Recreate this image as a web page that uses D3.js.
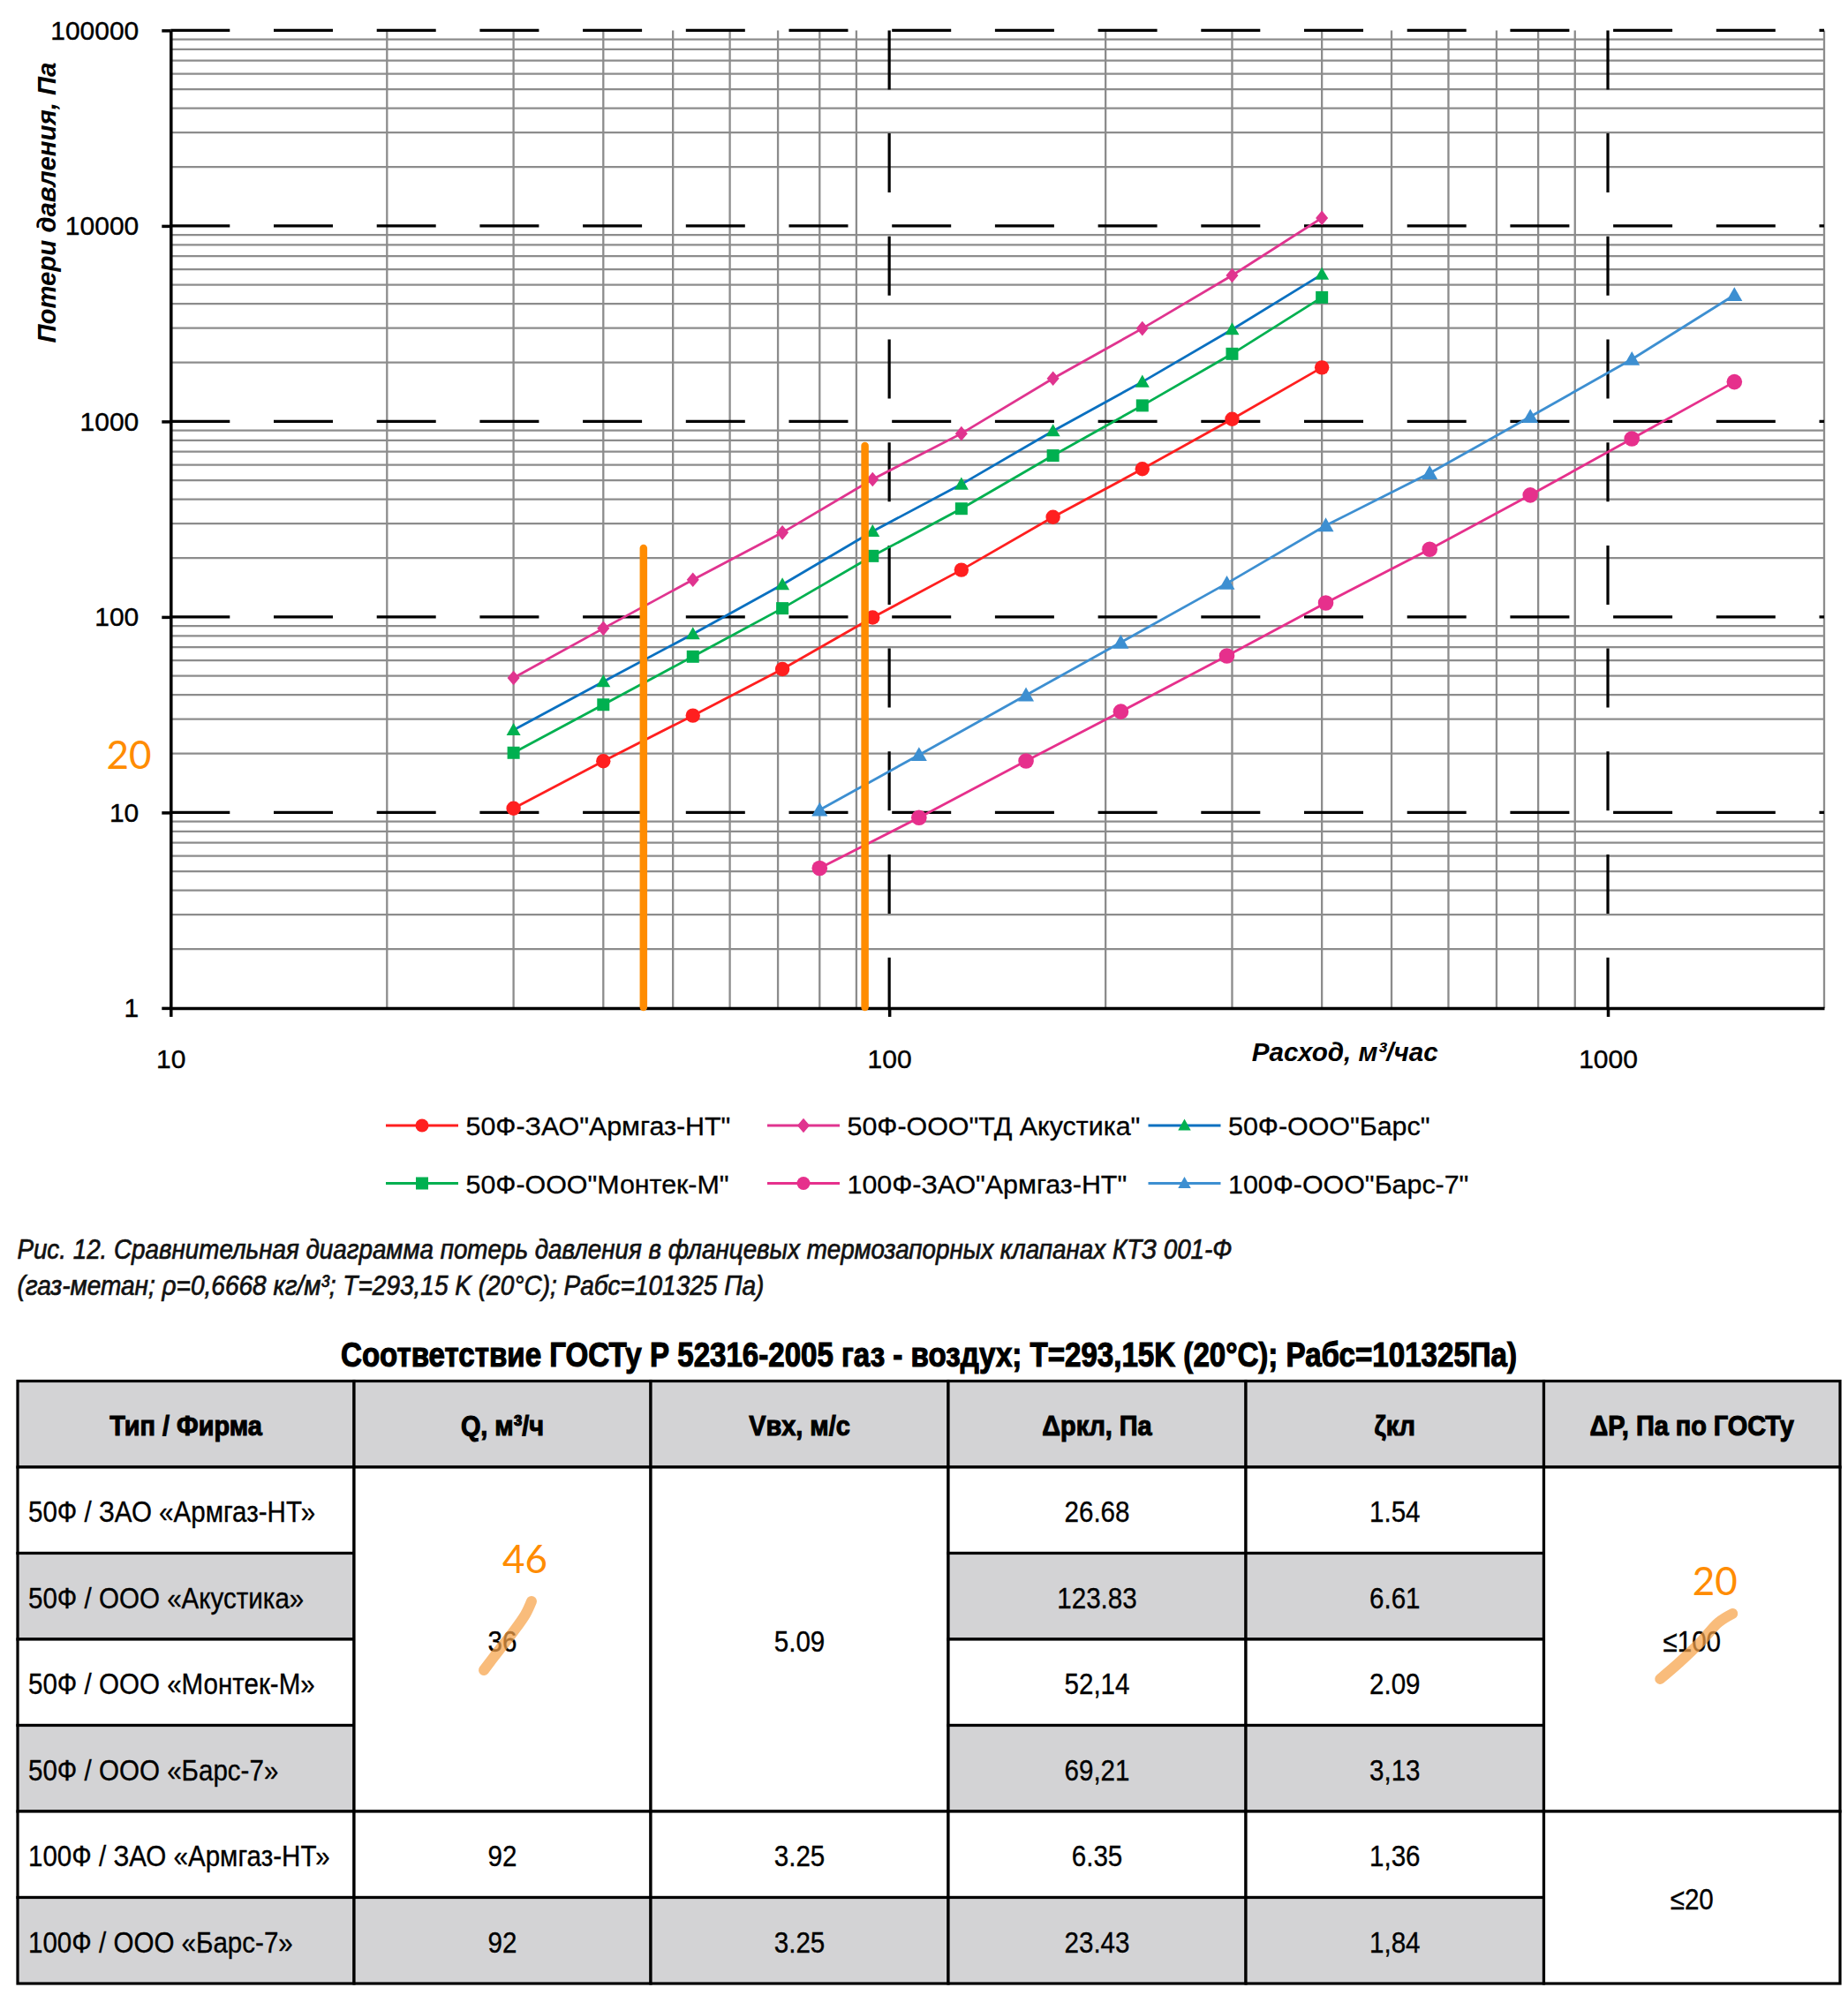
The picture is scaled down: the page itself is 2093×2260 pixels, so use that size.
<!DOCTYPE html>
<html><head><meta charset="utf-8">
<script src="https://cdn.jsdelivr.net/npm/d3@7"></script>
<style>
html,body{margin:0;padding:0;background:#fff;}
svg{display:block;}
</style></head>
<body>
<svg id="chart" width="2093" height="2260"></svg>
<script>
// ================= DATA =================
const flow50  = [30, 40, 53.3, 71, 94.8, 126, 169, 225, 300, 400];          // m3/h, DN50 valves
const flow100 = [80, 110, 155, 210, 295, 405, 565, 780, 1080, 1500];        // m3/h, DN100 valves
const armgaz50   = [10.5, 18.3, 31.3, 54.1, 99.4, 174, 324, 571, 1028, 1886];
const akustika50 = [48.8, 87.4, 155, 270, 506, 867, 1658, 2988, 5582, 10980];
const bars50     = [26.4, 46.7, 81.8, 146.5, 274, 477, 894, 1593, 2953, 5650];
const montek50   = [20.2, 35.6, 62.7, 110.7, 205, 358, 669, 1206, 2217, 4310];
const armgaz100  = [5.19, 9.41, 18.35, 32.8, 63.2, 118, 222, 420, 816, 1593];
const bars100    = [10.3, 19.7, 39.8, 74.1, 148.5, 293.6, 544, 1057, 2080, 4431];
const seriesNames = ['50Ф-ЗАО"Армгаз-НТ"', '50Ф-ООО"ТД Акустика"', '50Ф-ООО"Барс"',
                     '50Ф-ООО"Монтек-М"', '100Ф-ЗАО"Армгаз-НТ"', '100Ф-ООО"Барс-7"'];
const xTickValues = [10, 100, 1000];
const yTickValues = [1, 10, 100, 1000, 10000, 100000];
const xDomain = [10, 2000];
const yDomain = [1, 100000];
// hand-drawn orange annotations
const markFlows = [45.5, 92.5];
const markTops  = [225, 750];
const markPressure = 20;

const xTitle = 'Расход, м³/час';
const yTitle = 'Потери давления, Па';
const captionLines = ['Рис. 12. Сравнительная диаграмма потерь давления в фланцевых термозапорных клапанах КТЗ 001-Ф',
                      '(газ-метан; ρ=0,6668 кг/м³; T=293,15 K (20°C); Рабс=101325 Па)'];
const tableTitle = 'Соответствие ГОСТу Р 52316-2005 газ - воздух; T=293,15K (20°C); Рабс=101325Па)';
const tableHeaders = ['Тип / Фирма', 'Q, м³/ч', 'Vвх, м/с', 'Δркл, Па', 'ζкл', 'ΔP, Па по ГОСТу'];
const valveTypes = ['50Ф / ЗАО «Армгаз-НТ»', '50Ф / ООО «Акустика»', '50Ф / ООО «Монтек-М»',
                    '50Ф / ООО «Барс-7»', '100Ф / ЗАО «Армгаз-НТ»', '100Ф / ООО «Барс-7»'];
const qCells    = [{text: '36', from: 1, to: 4}, {text: '92', from: 5, to: 5}, {text: '92', from: 6, to: 6}];
const vCells    = [{text: '5.09', from: 1, to: 4}, {text: '3.25', from: 5, to: 5}, {text: '3.25', from: 6, to: 6}];
const dpValues  = ['26.68', '123.83', '52,14', '69,21', '6.35', '23.43'];
const zetaValues = ['1.54', '6.61', '2.09', '3,13', '1,36', '1,84'];
const gostCells = [{text: '≤100', from: 1, to: 4}, {text: '≤20', from: 5, to: 6}];
const tableNotes = ['46', '20'];

// ================= STYLE / LAYOUT =================
const W = 2093, H = 2260;
const plot = {left: 193.3, right: 2066, top: 34.4, bottom: 1141.9};
const styles = [
  {line: '#ff1f1f', marker: '#ff1f1f', shape: 'circle', size: 8.2},
  {line: '#e0348f', marker: '#e0348f', shape: 'diamond', size: 7.4},
  {line: '#0a70c0', marker: '#00b050', shape: 'triangle', size: 16},
  {line: '#00b050', marker: '#00b050', shape: 'square', size: 7},
  {line: '#e6308c', marker: '#e6308c', shape: 'circle', size: 8.8},
  {line: '#3d8fd1', marker: '#3d8fd1', shape: 'triangle', size: 18}
];
const ORANGE = '#ff8c00';
const GRID = '#8c8c8c';
const TABLE_GRAY = '#d3d3d5';

function fontAvailable(name) {
  const c = document.createElement('canvas').getContext('2d');
  const s = 'abcdefghijklmn АБВГДабвгдежз 0123456789';
  c.font = '40px monospace'; const w1 = c.measureText(s).width;
  c.font = '40px "' + name + '", monospace'; const w2 = c.measureText(s).width;
  return Math.abs(w1 - w2) > 0.5;
}
const NARROW_OK = fontAvailable('Liberation Sans Narrow');
const NARROW = NARROW_OK ? '"Liberation Sans Narrow", "Liberation Sans", sans-serif' : '"Liberation Sans", sans-serif';
const SANS = '"Liberation Sans", Arial, sans-serif';
const CAL = 'Lato, "Liberation Sans", sans-serif';
function stretch(sel, factor) {
  const f = NARROW_OK ? factor : factor * 0.82;
  sel.each(function () {
    const L = this.getComputedTextLength();
    d3.select(this).attr('textLength', L * f).attr('lengthAdjust', 'spacingAndGlyphs');
  });
}
function fitWidth(sel, w) {
  sel.attr('textLength', w).attr('lengthAdjust', 'spacingAndGlyphs');
}

function markerPath(shape, s) {
  if (shape === 'circle') return `M${s},0A${s},${s} 0 1,1 ${-s},0A${s},${s} 0 1,1 ${s},0Z`;
  if (shape === 'diamond') return `M0,${-s * 1.12}L${s * 0.95},0L0,${s * 1.12}L${-s * 0.95},0Z`;
  if (shape === 'triangle') { const h = s * 0.88; return `M0,${-h / 2 - 1}L${s / 2},${h / 2 - 1}L${-s / 2},${h / 2 - 1}Z`; }
  if (shape === 'square') return `M${-s},${-s}h${2 * s}v${2 * s}h${-2 * s}Z`;
  return '';
}

// ================= CHART =================
const svg = d3.select('#chart');
svg.append('rect').attr('width', W).attr('height', H).attr('fill', '#fff');

const x = d3.scaleLog().domain(xDomain).range([plot.left, plot.right]);
const y = d3.scaleLog().domain(yDomain).range([plot.bottom, plot.top]);
const isDecade = v => Math.abs(Math.log10(v) - Math.round(Math.log10(v))) < 1e-9;

const grid = svg.append('g');
grid.selectAll('line.vmin').data(x.ticks().filter(v => !isDecade(v))).join('line')
  .attr('x1', d => x(d)).attr('x2', d => x(d)).attr('y1', plot.top).attr('y2', plot.bottom)
  .attr('stroke', GRID).attr('stroke-width', 2.3);
grid.selectAll('line.hmin').data(y.ticks().filter(v => !isDecade(v))).join('line')
  .attr('y1', d => y(d)).attr('y2', d => y(d)).attr('x1', plot.left).attr('x2', plot.right)
  .attr('stroke', GRID).attr('stroke-width', 2.3);
grid.selectAll('line.hmaj').data(yTickValues.filter(v => v > yDomain[0])).join('line')
  .attr('y1', d => y(d)).attr('y2', d => y(d)).attr('x1', plot.left).attr('x2', plot.right)
  .attr('stroke', '#000').attr('stroke-width', 3.2).attr('stroke-dasharray', '67,49.7');
grid.selectAll('line.vmaj').data(xTickValues.filter(v => v > xDomain[0])).join('line')
  .attr('x1', d => x(d)).attr('x2', d => x(d)).attr('y1', plot.top).attr('y2', plot.bottom)
  .attr('stroke', '#000').attr('stroke-width', 3.2).attr('stroke-dasharray', '67,49.7');

// axes
const yAxis = d3.axisLeft(y).tickValues(yTickValues).tickFormat(d3.format('d')).tickSize(10).tickSizeOuter(0).tickPadding(26);
svg.append('g').attr('transform', `translate(${plot.left},0)`).call(yAxis)
  .attr('font-family', SANS).attr('font-size', 30)
  .call(g => {
    g.select('.domain').attr('stroke', '#000').attr('stroke-width', 3.5);
    g.selectAll('.tick line').attr('stroke', '#000').attr('stroke-width', 3.5);
    g.selectAll('.tick text').attr('fill', '#000').attr('stroke', '#000').attr('stroke-width', 0.4);
  });
const xAxis = d3.axisBottom(x).tickValues(xTickValues).tickFormat(d3.format('d')).tickSize(10).tickSizeOuter(0).tickPadding(37);
svg.append('g').attr('transform', `translate(0,${plot.bottom})`).call(xAxis)
  .attr('font-family', SANS).attr('font-size', 30)
  .call(g => {
    g.select('.domain').attr('stroke', '#000').attr('stroke-width', 3.5);
    g.selectAll('.tick line').attr('stroke', '#000').attr('stroke-width', 3.5);
    g.selectAll('.tick text').attr('fill', '#000').attr('stroke', '#000').attr('stroke-width', 0.4);
  });

// axis titles
svg.append('text').text(yTitle)
  .attr('transform', `translate(52,${(70.8 + 388.4) / 2}) rotate(-90)`)
  .attr('text-anchor', 'middle').attr('dy', '0.36em')
  .attr('font-family', SANS).attr('font-weight', 'bold').attr('font-style', 'italic').attr('font-size', 30)
  .call(fitWidth, 318);
svg.append('text').text(xTitle)
  .attr('x', 1417.7).attr('y', 1202)
  .attr('font-family', SANS).attr('font-weight', 'bold').attr('font-style', 'italic').attr('font-size', 30)
  .call(fitWidth, 211);

// series
const allX = [flow50, flow50, flow50, flow50, flow100, flow100];
const allY = [armgaz50, akustika50, bars50, montek50, armgaz100, bars100];
const series = seriesNames.map((name, i) => ({name, pts: allX[i].map((v, j) => [v, allY[i][j]]), st: styles[i]}));
const line = d3.line().x(d => x(d[0])).y(d => y(d[1]));
const gS = svg.append('g');
series.forEach(s => {
  const g = gS.append('g');
  g.append('path').datum(s.pts).attr('d', line).attr('fill', 'none')
    .attr('stroke', s.st.line).attr('stroke-width', 2.8);
  g.selectAll('path.m').data(s.pts).join('path').attr('class', 'm')
    .attr('transform', d => `translate(${x(d[0])},${y(d[1])})`)
    .attr('d', markerPath(s.st.shape, s.st.size)).attr('fill', s.st.marker);
});

// orange annotations
const gA = svg.append('g');
gA.selectAll('line').data(markFlows).join('line')
  .attr('x1', d => x(d)).attr('x2', d => x(d))
  .attr('y1', (d, i) => y(markTops[i])).attr('y2', plot.bottom - 1)
  .attr('stroke', ORANGE).attr('stroke-width', 8.5).attr('stroke-linecap', 'round');
gA.append('text').text(String(markPressure))
  .attr('x', 146).attr('y', y(markPressure) + 17).attr('text-anchor', 'middle')
  .attr('font-family', CAL).attr('font-size', 44).attr('fill', ORANGE);

// legend
const legCols = [437, 869, 1300.5], legRows = [1275, 1340.5];
const gL = svg.append('g');
series.forEach((s, i) => {
  const lx = legCols[i % 3], ly = legRows[Math.floor(i / 3)];
  gL.append('line').attr('x1', lx).attr('x2', lx + 82).attr('y1', ly).attr('y2', ly)
    .attr('stroke', s.st.line).attr('stroke-width', 3);
  gL.append('path').attr('transform', `translate(${lx + 41},${ly})`)
    .attr('d', markerPath(s.st.shape, s.st.shape === 'triangle' ? 14.5 : Math.min(s.st.size, 7.5))).attr('fill', s.st.marker);
  gL.append('text').text(s.name).attr('x', lx + 90.5).attr('y', ly + 11)
    .attr('font-family', SANS).attr('font-size', 30.4).attr('fill', '#000')
    .attr('stroke', '#000').attr('stroke-width', 0.3);
});

// caption
svg.append('text').text(captionLines[0]).attr('x', 19.4).attr('y', 1426.3)
  .attr('font-family', NARROW).attr('font-style', 'italic').attr('font-size', 31.5).attr('fill', '#111')
  .attr('stroke', '#111').attr('stroke-width', 0.7)
  .call(fitWidth, 1376);
svg.append('text').text(captionLines[1]).attr('x', 19.4).attr('y', 1466.5)
  .attr('font-family', NARROW).attr('font-style', 'italic').attr('font-size', 31.5).attr('fill', '#111')
  .attr('stroke', '#111').attr('stroke-width', 0.7)
  .call(fitWidth, 846);

// table title
svg.append('text').text(tableTitle).attr('x', 1052).attr('y', 1547.5).attr('text-anchor', 'middle')
  .attr('font-family', NARROW).attr('font-weight', 'bold').attr('font-size', 39).attr('fill', '#000')
  .attr('stroke', '#000').attr('stroke-width', 1.2)
  .call(fitWidth, 1332);

// ================= TABLE =================
const colEdges = [20, 401, 737, 1074, 1411, 1748.5, 2084];
const tTop = 1564.5, rowH = 97.5;
const rowY = r => tTop + r * rowH;
const cells = [];
tableHeaders.forEach((t, c) => cells.push({c, from: 0, to: 0, text: t, header: true}));
valveTypes.forEach((t, i) => cells.push({c: 0, from: i + 1, to: i + 1, text: t, left: true}));
qCells.forEach(d => cells.push({c: 1, from: d.from, to: d.to, text: d.text}));
vCells.forEach(d => cells.push({c: 2, from: d.from, to: d.to, text: d.text}));
dpValues.forEach((t, i) => cells.push({c: 3, from: i + 1, to: i + 1, text: t}));
zetaValues.forEach((t, i) => cells.push({c: 4, from: i + 1, to: i + 1, text: t}));
gostCells.forEach(d => cells.push({c: 5, from: d.from, to: d.to, text: d.text}));
const fillOf = d => (d.header || (d.from === d.to && d.from % 2 === 0)) ? TABLE_GRAY : '#fff';

const gT = svg.append('g');
gT.selectAll('rect').data(cells).join('rect')
  .attr('x', d => colEdges[d.c]).attr('width', d => colEdges[d.c + 1] - colEdges[d.c])
  .attr('y', d => rowY(d.from)).attr('height', d => rowY(d.to + 1) - rowY(d.from))
  .attr('fill', fillOf).attr('stroke', '#000').attr('stroke-width', 3.2);
const tt = gT.selectAll('text').data(cells).join('text')
  .text(d => d.text)
  .attr('x', d => d.left ? colEdges[0] + 12 : (colEdges[d.c] + colEdges[d.c + 1]) / 2)
  .attr('y', d => (rowY(d.from) + rowY(d.to + 1)) / 2 + (d.header ? 13 : 13.5))
  .attr('text-anchor', d => d.left ? 'start' : 'middle')
  .attr('font-family', NARROW)
  .attr('font-weight', d => d.header ? 'bold' : 'normal')
  .attr('font-size', d => d.header ? 32 : 34)
  .attr('fill', '#000')
  .attr('stroke', '#000')
  .attr('stroke-width', d => d.header ? 1.1 : 0.35);
stretch(tt.filter(d => d.header), 1.1);
stretch(tt.filter(d => !d.header), 1.06);

// hand-written corrections over the table
const qMerged = cells.find(d => d.c === 1 && d.to === 4);
const gMerged = cells.find(d => d.c === 5 && d.to === 4);
const centerOf = d => [(colEdges[d.c] + colEdges[d.c + 1]) / 2, (rowY(d.from) + rowY(d.to + 1)) / 2];
[[qMerged, [[-21, 35], [-5, 14], [12, -8], [26, -28], [33, -43]], [25.5, -75]],
 [gMerged, [[-36, 45], [-14, 26], [10, 3], [30, -19], [46, -29]], [26, -50]]].forEach(([cell, pts, note], i) => {
  const [cx, cy] = centerOf(cell);
  gT.append('path').datum(pts.map(p => [cx + p[0], cy + p[1]]))
    .attr('d', d3.line().curve(d3.curveCatmullRom)).attr('fill', 'none')
    .attr('stroke', 'rgba(246,162,72,0.72)').attr('stroke-width', 12).attr('stroke-linecap', 'round');
  gT.append('text').text(tableNotes[i]).attr('x', cx + note[0]).attr('y', cy + note[1])
    .attr('text-anchor', 'middle').attr('font-family', CAL).attr('font-size', 44).attr('fill', ORANGE);
});
</script>
</body></html>
